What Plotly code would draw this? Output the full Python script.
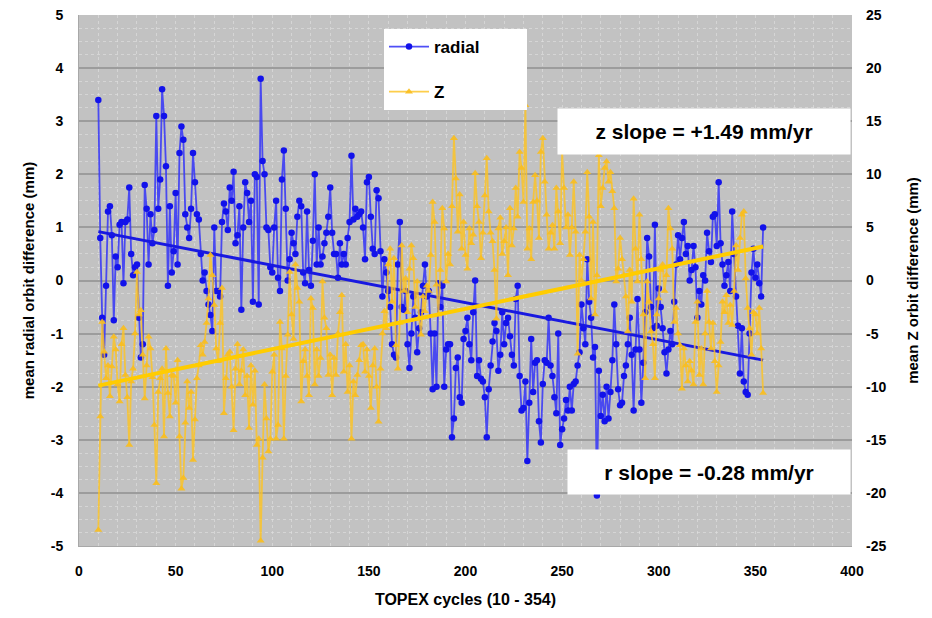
import plotly.graph_objects as go

# ---------------- data ----------------
cycles = list(range(10, 355))

radial = [
    3.4, 0.8, -0.7, -1.4, -0.1, 1.3, 1.4, 0.85, -0.75, 0.45,        # 10-19
    0.25, 1.05, 1.1, -0.05, 1.1, 1.15, 1.75, 0.5, 0.1, 0.25,        # 20-29
    0.3, -0.7, -1.45, -1.2, 1.8, 1.35, 0.3, 1.25, 0.7, 0.95,        # 30-39
    3.1, 1.35, 1.9, 3.6, 3.1, 2.15, -0.1, 1.4, 0.15, 0.55,          # 40-49
    1.65, 0.3, 2.4, 2.9, 2.65, 1.25, 1.0, 0.8, 1.35, 2.4,           # 50-59
    1.85, 1.25, 1.15, 0.5, 0.0, 0.15, -0.2, -0.45, -0.65, -0.95,    # 60-69
    1.0, -0.2, -0.2, -0.3, 1.1, 1.45, 1.3, 0.95, 1.75, 1.5,         # 70-79
    2.05, 0.7, 0.85, 1.4, -0.55, 1.0, 1.85, 1.65, 1.1, 1.5,         # 80-89
    -0.4, 2.0, 1.95, -0.45, 3.8, 2.25, 2.0, 1.0, 0.95, 0.25,        # 90-99
    0.15, 1.0, 1.5, 0.05, -0.2, 1.9, 2.45, 1.35, 0.0, 0.4,          # 100-109
    0.9, 0.7, 0.5, 1.2, 1.5, 1.4, 0.15, -0.05, 1.3, 0.2,            # 110-119
    -0.1, 0.75, 2.0, 0.3, 1.0, 0.3, 0.45, 0.7, 0.9, 1.2,            # 120-129
    1.75, 0.9, 0.5, 0.5, 0.05, 0.7, 0.3, 0.5, 0.3, 0.8,             # 130-139
    1.1, 2.35, 1.15, 1.35, 1.2, 1.25, 1.3, 1.0, 0.4, 1.85,          # 140-149
    1.95, 1.2, 0.6, 0.5, 1.7, 1.55, 0.55, -0.3, 0.4, 0.15,          # 150-159
    -0.2, -0.5, -1.2, -1.4, -1.45, 0.3, 1.1, -0.5, -0.55, -0.2,     # 160-169
    -1.2, -1.65, -1.0, -0.3, -0.7, -1.35, -0.9, -0.6, -0.1, 0.3,    # 170-179
    -0.3, -0.2, -1.0, -2.05, -1.0, -2.0, -0.05, -0.5, -0.1, -2.0,   # 180-189
    -1.3, -1.2, -1.2, -2.95, -2.6, -1.65, -1.45, -2.2, -2.3, -1.1,  # 190-199
    -0.95, -0.7, -1.2, -1.5, -0.6, 0.0, -1.8, -1.5, -1.85, -1.9,    # 200-209
    -2.2, -2.95, -2.05, -1.6, -1.15, -0.8, -0.95, -1.7, -1.4, -0.6, # 210-219
    -1.2, -0.8, -0.7, -1.05, -1.4, -1.6, -0.35, -0.1, -1.8, -2.45,  # 220-229
    -2.4, -1.9, -3.4, -2.3, -1.1, -2.1, -1.55, -1.5, -2.65, -3.05,  # 230-239
    -1.95, -1.5, -1.55, -0.7, -1.6, -1.8, -2.2, -2.5, -1.0, -3.1,   # 240-249
    -2.8, -2.6, -2.25, -2.45, -2.0, -2.45, -1.95, -1.9, -1.6, -1.35,# 250-259
    -0.45, -0.9, -1.2, 0.4, -0.4, -0.7, -1.45, -1.25, -4.05, -1.7,  # 260-269
    -2.55, -2.15, -2.65, -2.0, -2.6, -2.1, -1.5, -0.45, -1.2, -2.05,# 270-279
    -2.35, -2.3, -1.8, -1.6, -1.2, -0.7, -1.4, -2.45, -1.3, -0.35,  # 280-289
    -1.3, -2.3, -1.55, -0.6, 0.8, 0.45, -0.5, -0.9, 1.05, -0.85,    # 290-299
    -0.15, -0.5, -0.9, -1.35, -1.75, -1.3, -0.95, -1.2, -0.4, 0.3,  # 300-309
    0.85, 0.4, 0.8, 1.1, 0.5, 0.65, 0.0, 0.2, 0.65, 0.25,           # 310-319
    -0.7, -0.2, -0.45, 0.1, 0.0, 0.9, 0.55, 0.35, 1.2, 1.25,        # 320-329
    0.65, 1.85, 0.7, 0.3, -0.1, 0.1, 0.35, -0.2, 1.3, 0.5,          # 330-339
    -0.3, -0.85, -1.75, -0.9, -1.9, -2.1, -2.15, -1.0, 0.15, 0.6,   # 340-349
    0.05, 0.3, -0.05, -0.3, 1.0,                                    # 350-354
]

z_diff = [
    -23.5, -12.8, -3.9, -6.7, -9.2, -8.0, -10.9, -8.1, -5.3, -6.5,      # 10-19
    -9.8, -11.4, -6.0, -4.5, -8.9, -11.0, -15.5, -9.5, -8.3, -5.0,      # 20-29
    0.8, -3.2, -2.8, -7.0, -11.1, -8.0, -5.3, -6.4, -9.1, -13.6,        # 30-39
    -19.1, -10.5, -9.2, -8.3, -14.7, -6.4, -10.6, -12.8, -8.9, -9.0,    # 40-49
    -11.5, -7.5, -14.7, -19.6, -18.6, -13.4, -9.5, -12.0, -10.5, -16.9, # 50-59
    -13.1, -9.2, -8.0, -6.1, -7.0, -5.8, -4.0, -1.7, 2.4, 0.5,          # 60-69
    -2.3, -6.4, -7.6, -4.0, -0.7, -12.5, -9.2, -7.0, -6.7, -10.0,       # 70-79
    -14.1, -8.3, -6.0, -9.8, -8.5, -6.5, -10.8, -9.0, -13.9, -8.0,      # 80-89
    -11.7, -8.5, -15.5, -14.9, -24.5, -16.7, -9.8, -13.0, -16.1, -14.9, # 90-99
    -8.6, -7.0, -14.9, -13.6, -3.9, -6.4, -14.9, -9.0, -5.1, 0.8,       # 100-109
    -3.2, -5.5, 1.5, -0.7, -2.0, -11.4, -7.6, -6.5, -9.0, -10.8,        # 110-119
    -1.7, -2.6, -9.8, -6.5, -9.0, -7.3, -0.1, -3.5, -4.5, -8.9,         # 120-129
    -7.0, -10.8, -7.3, -8.9, -5.0, -3.0, -1.4, -8.6, -6.0, -10.5,       # 130-139
    -8.0, -14.9, -9.5, -10.8, -8.9, -7.5, -6.1, -6.0, -8.6, -6.5,       # 140-149
    -9.0, -12.0, -8.0, -6.4, -10.0, -13.3, -8.3, -5.0, -2.9, -4.5,      # 150-159
    1.5, 3.0, -2.0, 2.1, -6.1, -8.3, -4.0, 3.3, -1.0, 0.2,              # 160-169
    -3.0, 1.1, 3.3, 2.1, -2.5, -0.1, -3.5, -5.1, -1.5, -2.9,            # 170-179
    -0.5, -1.0, 2.4, 7.4, 5.5, -0.4, -3.2, 1.0, 6.8, 4.9,               # 180-189
    -0.1, 2.5, 1.5, 7.0, 13.4, 9.6, 4.6, 8.1, 3.0, 5.5,                 # 190-199
    2.4, 1.1, 4.9, 3.5, 4.3, 10.1, 7.0, 5.5, 2.1, 4.5,                  # 200-209
    8.0, 11.5, 6.5, 4.5, 3.7, 1.0, -3.6, 4.9, 5.9, 2.5,                 # 210-219
    3.7, 5.0, 0.5, 6.8, 3.3, 4.9, 8.7, 6.0, 12.1, 10.6,                 # 220-229
    7.4, 16.5, 3.0, 4.9, 2.0, 7.4, 9.9, 7.5, 4.0, 12.1,                 # 230-239
    13.4, 9.3, 6.2, 3.0, 4.5, 5.2, 3.0, 8.7, 6.5, 3.5,                  # 240-249
    12.1, 8.7, 5.0, 6.2, 2.4, 5.0, 9.3, 4.6, -6.9, 2.4,                 # 250-259
    0.0, 2.0, 4.6, 10.2, 6.0, -1.7, 5.5, -3.2, 0.5, 11.8,               # 260-269
    7.0, 8.7, 10.6, 11.2, 9.3, 10.2, 8.4, 6.8, -0.1, 1.1,               # 270-279
    4.0, 2.0, 0.5, -1.5, -4.8, 1.0, -2.0, 7.7, 3.0, -0.1,               # 280-289
    6.2, 2.0, -3.2, -9.2, -0.1, -2.0, -4.8, -6.0, -9.2, -3.2,           # 290-299
    -1.7, 1.0, 1.5, -1.0, 0.5, 6.8, 4.9, 3.0, -3.9, -2.6,               # 300-309
    -5.0, -6.1, -10.2, -6.4, -8.0, -9.5, -7.6, -8.5, -9.8, -3.9,        # 310-319
    -2.0, -8.9, -6.4, -9.8, -5.0, -1.0, -3.9, -6.4, -4.0, -7.6,         # 320-329
    -10.5, -8.0, -5.8, -2.0, -3.0, -1.4, -4.0, -2.3, -4.2, -1.0,        # 330-339
    3.3, 1.0, 4.0, 6.2, 6.5, 0.2, -2.6, -4.5, -7.0, -3.0,               # 340-349
    -3.2, -5.0, -2.6, -6.4, -10.6,                                      # 350-354
]

trend_cycles = [10, 354]
radial_trend = [0.92, -1.50]
z_trend = [-9.9, 3.2]

x_ticks = [0, 50, 100, 150, 200, 250, 300, 350, 400]
left_ticks = [-5, -4, -3, -2, -1, 0, 1, 2, 3, 4, 5]
right_ticks = [-25, -20, -15, -10, -5, 0, 5, 10, 15, 20, 25]

z_label = "z slope = +1.49 mm/yr"
r_label = "r slope = -0.28 mm/yr"

# ---------------- figure ----------------
FONT = "Liberation Sans, Arial, sans-serif"
PAD = "\u00a0" * 9   # widen the legend box like the original

# page body has an 8px default margin: plot area 79..852 x 15..546 in the window
ML, MT = 71, 7
PW, PH = 773, 531
W, H = 924, 610

fig = go.Figure()

fig.add_trace(go.Scatter(
    x=cycles, y=radial, name="radial" + PAD, mode="lines+markers",
    line=dict(color="rgba(60,60,245,0.9)", width=1.8),
    marker=dict(color="#1212ea", size=6.5, symbol="circle"),
    legendgroup="r", yaxis="y"))

fig.add_trace(go.Scatter(
    x=trend_cycles, y=radial_trend, mode="lines", showlegend=False,
    line=dict(color="#1818e0", width=3), yaxis="y", hoverinfo="skip"))

fig.add_trace(go.Scatter(
    x=cycles, y=z_diff, name="Z" + PAD, mode="lines+markers",
    line=dict(color="rgba(252,195,35,0.82)", width=1.8),
    marker=dict(color="rgba(250,190,30,0.9)", size=7, symbol="triangle-up"),
    legendgroup="z", yaxis="y2"))

fig.add_trace(go.Scatter(
    x=trend_cycles, y=z_trend, mode="lines", showlegend=False,
    line=dict(color="#ffcc00", width=4), yaxis="y2", hoverinfo="skip"))

tickfont = dict(family=FONT, size=14, color="black", weight="bold")
titlefont = dict(family=FONT, size=15, color="black", weight="bold")

fig.update_layout(
    width=W, height=H,
    margin=dict(l=ML, r=W - ML - PW, t=MT, b=H - MT - PH),
    paper_bgcolor="white",
    plot_bgcolor="#c2c2c2",
    font=dict(family=FONT, color="black"),
    xaxis=dict(
        range=[0, 400], tickvals=x_ticks, ticktext=[str(v) for v in x_ticks],
        showgrid=False, zeroline=False, ticks="", tickfont=tickfont,
        ticklabelstandoff=12, automargin=False, ticklabeloverflow="allow",
        title=dict(text="TOPEX cycles (10 - 354)",
                   font=dict(family=FONT, size=16, color="black", weight="bold"), standoff=16),
        minor=dict(dtick=10, showgrid=True, gridcolor="rgba(225,225,225,0.6)", gridwidth=1, griddash="dot"),
        showline=True, linecolor="#a8a8a8", linewidth=1,
    ),
    yaxis=dict(
        range=[-5, 5], tickvals=left_ticks, ticktext=[str(v) for v in left_ticks],
        showgrid=True, gridcolor="#9c9c9c", gridwidth=2, zeroline=False,
        ticks="", tickfont=tickfont, ticklabelstandoff=12, automargin=False,
        ticklabeloverflow="allow",
        title=dict(text="mean radial orbit difference (mm)", font=titlefont, standoff=12),
        minor=dict(dtick=0.25, showgrid=True, gridcolor="rgba(225,225,225,0.6)", gridwidth=1, griddash="dot"),
        showline=True, linecolor="#a8a8a8", linewidth=1,
    ),
    yaxis2=dict(
        range=[-25, 25], tickvals=right_ticks, ticktext=[str(v) for v in right_ticks],
        overlaying="y", side="right", showgrid=False, zeroline=False,
        ticks="", tickfont=tickfont, ticklabelstandoff=13, automargin=False,
        ticklabeloverflow="allow",
        title=dict(text="mean Z orbit difference (mm)", font=titlefont, standoff=22),
    ),
    legend=dict(
        x=(384 - 79) / PW, y=(546 - 29) / PH, xanchor="left", yanchor="top",
        bgcolor="white", borderwidth=0,
        font=dict(family=FONT, size=17, color="black", weight="bold"),
        tracegroupgap=20, itemwidth=40,
    ),
    annotations=[
        dict(text=z_label, xref="paper", yref="paper",
             x=(704 - 79) / PW, y=(546 - 132) / PH, xanchor="center", yanchor="middle",
             showarrow=False, bgcolor="white", width=292, height=45, borderpad=0,
             font=dict(family=FONT, size=21, color="black", weight="bold")),
        dict(text=r_label, xref="paper", yref="paper",
             x=(709 - 79) / PW, y=(546 - 472) / PH, xanchor="center", yanchor="middle",
             showarrow=False, bgcolor="white", width=282, height=44, borderpad=0,
             font=dict(family=FONT, size=21, color="black", weight="bold")),
    ],
)

fig.write_html("out.html")
